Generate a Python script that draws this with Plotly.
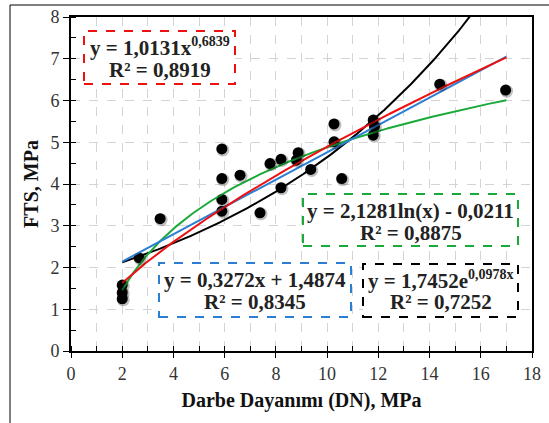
import numpy as np
import plotly.graph_objects as go

# Measured data (Darbe Dayanımı DN, FTS)
dn = [2.0, 2.0, 2.0, 2.66, 3.48, 5.89, 5.89, 5.89, 5.89, 6.6, 7.38, 7.77, 8.2, 8.2,
      8.8, 8.87, 9.36, 10.27, 10.27, 10.57, 11.8, 11.85, 11.8, 14.4, 16.97]
fts = [1.58, 1.40, 1.25, 2.23, 3.17, 4.84, 4.13, 3.63, 3.35, 4.21, 3.31, 4.49, 4.59, 3.91,
       4.57, 4.75, 4.35, 5.44, 5.01, 4.13, 5.53, 5.38, 5.17, 6.39, 6.25]

# Trendline coefficients (as printed on the chart)
lin_a, lin_b = 0.3272, 1.4874
pow_a, pow_b = 1.0131, 0.6839
log_a, log_b = 2.1281, -0.0211
exp_a, exp_b = 1.7452, 0.0978
fit_min, fit_max = 2.0, 17.0

x_ticks = [0, 2, 4, 6, 8, 10, 12, 14, 16, 18]
y_ticks = [0, 1, 2, 3, 4, 5, 6, 7, 8]

xf = np.linspace(fit_min, fit_max, 300)
y_lin = lin_a * xf + lin_b
y_pow = pow_a * xf ** pow_b
y_log = log_a * np.log(xf) + log_b
y_exp = exp_a * np.exp(exp_b * xf)

W, H = 549, 423
ml, mr, mt, mb = 71, 17, 17, 72
pw = W - ml - mr
ph = H - mt - mb
sx = 3 * 18 / pw
sy = 3 * 8 / ph

serif = "Liberation Serif, Times New Roman, serif"
tickfont = dict(family=serif, size=18, color="#333")
fig = go.Figure()

# drop shadow for points
fig.add_trace(go.Scatter(x=dn, y=fts, mode="markers", xaxis="x2", yaxis="y2",
                         marker=dict(size=13, color="rgba(0,0,0,0.25)", line=dict(width=0)),
                         hoverinfo="skip", showlegend=False))
fig.add_trace(go.Scatter(x=dn, y=fts, mode="markers",
                         marker=dict(size=11, color="black", line=dict(width=0)),
                         showlegend=False))
fig.add_trace(go.Scatter(x=xf, y=y_exp, mode="lines", line=dict(color="black", width=2), showlegend=False))
fig.add_trace(go.Scatter(x=xf, y=y_log, mode="lines", line=dict(color="#1aaa3a", width=2), showlegend=False))
fig.add_trace(go.Scatter(x=xf, y=y_lin, mode="lines", line=dict(color="#2a7fd4", width=2), showlegend=False))
fig.add_trace(go.Scatter(x=xf, y=y_pow, mode="lines", line=dict(color="#ee1111", width=2), showlegend=False))

grid = dict(showgrid=True, gridcolor="#d4d4d4", griddash="dash", gridwidth=1)
fig.update_layout(
    width=W, height=H, margin=dict(l=ml, r=mr, t=mt, b=mb),
    paper_bgcolor="white", plot_bgcolor="white",
    font=dict(family=serif, color="black", size=17),
    xaxis=dict(range=[0, 18], tickvals=x_ticks, ticks="outside", ticklen=5, tickcolor="black",
               showline=True, linecolor="black", linewidth=2, mirror=True, zeroline=False,
               automargin=False, tickfont=tickfont,
               minor=dict(dtick=1, ticks="inside", ticklen=5, tickcolor="black", showgrid=True,
                          gridcolor="#d4d4d4", griddash="dash"),
               title=dict(text="<b>Darbe Dayanımı (DN), MPa</b>",
                          font=dict(family=serif, size=20, color="#111"), standoff=10),
               **grid),
    yaxis=dict(range=[0, 8], tickvals=y_ticks, ticks="outside", ticklen=6, tickcolor="black",
               showline=True, linecolor="black", linewidth=2, mirror=True, zeroline=False,
               automargin=False, tickfont=tickfont,
               minor=dict(dtick=0.5, ticks="inside", ticklen=5, tickcolor="black", showgrid=False),
               title=dict(text="<b>FTS, MPa</b>",
                          font=dict(family=serif, size=20, color="#111"), standoff=6),
               **grid),
    xaxis2=dict(range=[0 - sx / 3, 18 - sx / 3], overlaying="x", visible=False),
    yaxis2=dict(range=[0 + sy / 3, 8 + sy / 3], overlaying="y", visible=False),
)

def px2paper(x0, y0):
    return (x0 - ml) / pw, 1 - (y0 - mt) / ph

def box(x0, y0, x1, y1, color, line1, line2, yl1, yl2):
    a0, b0 = px2paper(x0, y1)
    a1, b1 = px2paper(x1, y0)
    fig.add_shape(type="rect", xref="paper", yref="paper", x0=a0, y0=b0, x1=a1, y1=b1,
                  line=dict(color=color, width=2, dash="dash"), fillcolor="white", layer="above")
    cx = (a0 + a1) / 2
    for txt, yy in ((line1, yl1), (line2, yl2)):
        fig.add_annotation(xref="paper", yref="paper", x=cx, y=px2paper(0, yy)[1],
                           text="<b>" + txt + "</b>", showarrow=False,
                           font=dict(family=serif, size=21, color="#222"),
                           xanchor="center", yanchor="middle")

def sup(t):
    return "<sup><span style='font-size:14px'>" + t + "</span></sup>"

box(84, 31, 235, 84, "#ee1111", "y = 1,0131x" + sup("0,6839"), "R² = 0,8919", 47, 70)
box(303, 194, 518, 246, "#1aaa3a", "y = 2,1281ln(x) - 0,0211", "R² = 0,8875", 211, 233)
box(159, 263, 351, 317, "#2a7fd4", "y = 0,3272x + 1,4874", "R² = 0,8345", 280, 302)
box(363, 264, 518, 317, "black", "y = 1,7452e" + sup("0,0978x"), "R² = 0,7252", 280, 302)

# outer chart frame
fx0, fy0 = px2paper(10, 5)
fx1, fy1 = px2paper(560, 440)
fig.add_shape(type="rect", xref="paper", yref="paper", x0=fx0, y0=fy1, x1=fx1, y1=fy0,
              line=dict(color="black", width=1), layer="below")

fig.write_html("out.html", config={"displayModeBar": False},
               post_script="document.body.style.margin='0';document.body.style.overflow='hidden';"
                           "document.documentElement.style.overflow='hidden';")
